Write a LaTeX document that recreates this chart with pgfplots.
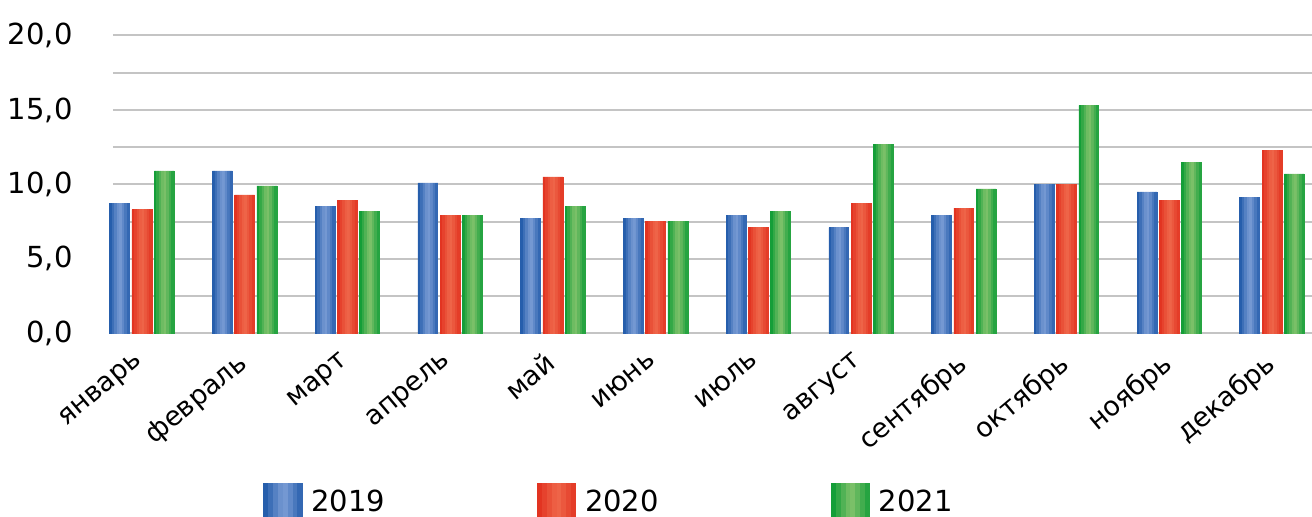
\documentclass[border=0pt]{standalone}
\usepackage{pgfplots}
\usepackage{pgfplotstable}
\pgfplotsset{compat=1.18}
\usepackage{fontspec}
\setmainfont{DejaVu Sans}
\definecolor{bdark}{RGB}{38,94,172}
\definecolor{blight}{RGB}{116,152,210}
\definecolor{rdark}{RGB}{226,52,33}
\definecolor{rlight}{RGB}{238,100,72}
\definecolor{gdark}{RGB}{20,158,56}
\definecolor{glight}{RGB}{122,192,104}
\definecolor{gridc}{RGB}{196,196,196}
\pgfplotstableread{
x  b19   b20   b21
0  8.7   8.3   10.9
1  10.9  9.3   9.9
2  8.5   8.9   8.2
3  10.1  7.9   7.9
4  7.7   10.5  8.5
5  7.7   7.5   7.5
6  7.9   7.1   8.2
7  7.1   8.7   12.7
8  7.9   8.4   9.7
9  10.0  10.0  15.3
10 9.5   8.9   11.5
11 9.1   12.3  10.7
}\data
% one stripe of a bar: column, shift, colour
\newcommand{\st}[3]{\addplot[forget plot, bar shift=#2, fill=#3, draw=#3, line width=0.3pt] table[x=x,y=#1]{\data};}
% eight stripes per bar, dark -> light -> dark
\newcommand{\series}[4]{%
 \st{#1}{#2-0.085813}{#4!0!#3}%
 \st{#1}{#2-0.061438}{#4!30!#3}%
 \st{#1}{#2-0.037063}{#4!60!#3}%
 \st{#1}{#2-0.012688}{#4!88!#3}%
 \st{#1}{#2+0.011688}{#4!100!#3}%
 \st{#1}{#2+0.036063}{#4!75!#3}%
 \st{#1}{#2+0.060438}{#4!45!#3}%
 \st{#1}{#2+0.084813}{#4!18!#3}%
}
\newcommand{\swatch}[2]{%
 \foreach \p [count=\i from 0] in {0,30,60,88,100,75,45,18} {\path[draw=none, fill=#2!\p!#1] (\i*2.4375pt,-9.75pt) rectangle ++(2.55pt,19.5pt);}%
 \path[draw=none] (0pt,0pt) -- (22pt,0pt);}
\begin{document}
\begin{tikzpicture}
\useasboundingbox (0,0) rectangle (656pt,258.5pt);
\begin{axis}[
  at={(56.5pt,91.85pt)}, anchor=south west,
  scale only axis, width=599.5pt, height=148.9pt,
  xmin=-0.282, xmax=11.389, ymin=0, ymax=20,
  clip=false,
  axis line style={draw=none},
  ytick={0,5,...,20}, minor ytick={2.5,7.5,12.5,17.5},
  ymajorgrids, yminorgrids,
  major grid style={draw=gridc, line width=1pt},
  minor grid style={draw=gridc, line width=1pt},
  xtick={0,...,11},
  xticklabels={январь,февраль,март,апрель,май,июнь,июль,август,сентябрь,октябрь,ноябрь,декабрь},
  major tick length=0pt, minor tick length=0pt,
  tick style={draw=none},
  y tick label style={font=\fontsize{14.5}{17}\selectfont, anchor=east, xshift=-16.7pt,
    /pgf/number format/.cd, fixed, fixed zerofill, precision=1, use comma, assume math mode=true},
  x tick label style={font=\fontsize{13.5}{16}\selectfont, anchor=north east, inner sep=0pt, xshift=-4.5pt, yshift=-8.5pt, rotate=40},
  ybar, bar width=0.0232,
  legend style={at={(0.125,-0.568)}, anchor=west, draw=none, fill=none, inner sep=0pt,
    font=\fontsize{14.5}{17}\selectfont, legend columns=3,
    /tikz/every even column/.append style={column sep=74pt}},
]
\series{b19}{-0.217}{bdark}{blight}
\series{b20}{0}{rdark}{rlight}
\series{b21}{0.217}{gdark}{glight}
\addlegendimage{legend image code/.code={\swatch{bdark}{blight}}}
\addlegendentry{2019}
\addlegendimage{legend image code/.code={\swatch{rdark}{rlight}}}
\addlegendentry{2020\rule{10pt}{0pt}}
\addlegendimage{legend image code/.code={\swatch{gdark}{glight}}}
\addlegendentry{2021}
\end{axis}
\end{tikzpicture}
\end{document}
